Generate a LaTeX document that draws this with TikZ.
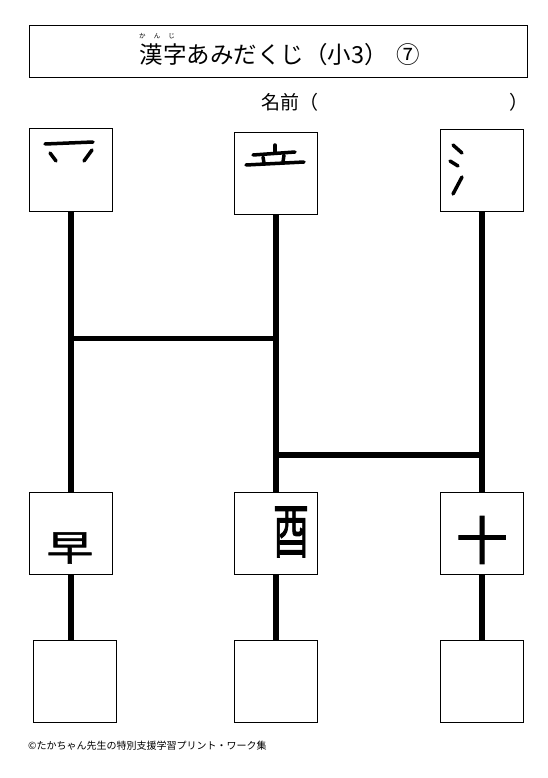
\documentclass[tikz,border=0pt]{standalone}
\usepackage{fontspec}
\setmainfont{Noto Sans CJK JP}
\newfontfamily\kanjifont{Noto Sans CJK JP}[FakeBold=1.5]
\usetikzlibrary{positioning, calc, backgrounds}

\begin{document}
\begin{tikzpicture}[
  x=1pt, y=-1pt,
  kbox/.style={draw, fill=white, line width=1pt, minimum width=83pt,
               minimum height=82pt, inner sep=0pt},
  rail/.style={line width=5.5pt},
  brush/.style={line width=3.5pt, line cap=round},
  kanji/.style={inner sep=0pt},
]
  \useasboundingbox (0,0) rectangle (548,778);

  % title and name line
  \node[draw, line width=1pt, minimum width=498pt, minimum height=52pt] (titlebox) at (278,52) {};
  \node[font=\fontsize{23.5}{23.5}\selectfont, inner sep=0pt] (title) at (280,55)
    {漢字あみだくじ（小3）\hspace{0.4em}⑦};
  \node[font=\fontsize{6.5}{6.5}\selectfont, inner sep=0pt] (ruby) at (157,36)
    {\makebox[36pt][s]{か\hfill ん\hfill じ}};
  \node[font=\fontsize{19}{19}\selectfont, inner sep=0pt, anchor=west] (name) at (261,102) {名前（};
  \node[font=\fontsize{19}{19}\selectfont, inner sep=0pt, anchor=west] (nameend) at (509,102) {）};

  % boxes
  \node[kbox] (top1) at (71,170) {};
  \node[kbox] (top2) at (276,173.5) {};
  \node[kbox] (top3) at (482,170.5) {};
  \node[kbox] (mid1) at (71,533.5) {};
  \node[kbox] (mid2) at (276,533.5) {};
  \node[kbox] (mid3) at (482,533.5) {};
  \node[kbox] (ans1) at (75,681.5) {};
  \node[kbox] (ans2) at (276,681.5) {};
  \node[kbox] (ans3) at (482,681.5) {};

  % ladder behind the boxes
  \coordinate (rungA) at (0,338.5);
  \coordinate (rungB) at (0,455);
  \begin{scope}[on background layer]
    \draw[rail] (top1.south) -- (top1.south |- ans1.north);
    \draw[rail] (top2.south) -- (top2.south |- ans2.north);
    \draw[rail] (top3.south) -- (top3.south |- ans3.north);
    \draw[rail] (top1 |- rungA) -- (top2 |- rungA);
    \draw[rail] (top2 |- rungB) -- (top3 |- rungB);
  \end{scope}

  % parts at the top
  \draw[brush] (45,144) -- (93,142);
  \draw[brush] (50,153) -- (56,161);
  \draw[brush] (92,150) -- (84,161);

  \draw[brush] (275,145) -- (275,152);
  \draw[brush] (253,155) -- (295,152);
  \draw[brush] (246,165) -- (304,162);
  \draw[brush] (263,157) -- (264,163);
  \draw[brush] (284,155) -- (283,162);

  \draw[brush] (453,145) -- (462,153);
  \draw[brush] (450,161) -- (458,166);
  \draw[brush] (462,177) -- (453,194);

  % parts in the middle
  \node[kanji, font=\fontsize{36}{36}\kanjifont] (ch1) at (70,548) {\scalebox{1.3}[1]{早}};
  \node[kanji, font=\fontsize{60}{60}\kanjifont] (ch2) at (291,532) {\scalebox{0.6}[1]{酉}};
  \node[kanji, font=\fontsize{52}{52}\kanjifont] (ch3) at (482,540) {十};

  % footer
  \node[font=\fontsize{10}{10}\selectfont, inner sep=0pt, anchor=west] (credit) at (28,746)
    {©たかちゃん先生の特別支援学習プリント・ワーク集};
\end{tikzpicture}
\end{document}
